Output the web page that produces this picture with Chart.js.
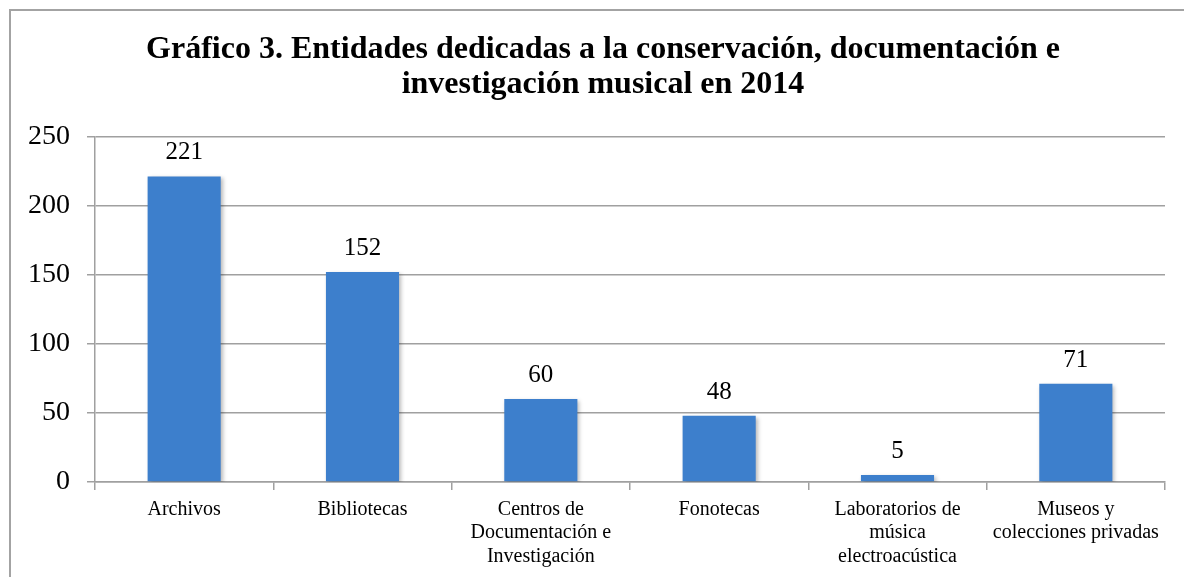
<!DOCTYPE html>
<html>
<head>
<meta charset="utf-8">
<script src="https://cdn.jsdelivr.net/npm/chart.js@4/dist/chart.umd.min.js"></script>
<style>
  html, body { margin: 0; padding: 0; background: #fff; overflow: hidden; }
  #frame {
    position: absolute; left: 9px; top: 9px;
    width: 1220px; height: 620px;
    border: 2px solid #a3a3a3;
  }
  #wrap { position: absolute; left: 0; top: 0; width: 1184px; height: 577px; }
</style>
</head>
<body>
<div id="frame"></div>
<div id="wrap"><canvas id="chart"></canvas></div>
<script>
  // data
  var categories = [
    'Archivos',
    'Bibliotecas',
    ['Centros de', 'Documentación e', 'Investigación'],
    'Fonotecas',
    ['Laboratorios de', 'música', 'electroacústica'],
    ['Museos y', 'colecciones privadas']
  ];
  var entidades = [221, 152, 60, 48, 5, 71];
  var yTicks = [0, 50, 100, 150, 200, 250];

  var serif = "'Liberation Serif', 'Times New Roman', serif";
  var gridGray = '#a0a0a0';

  // values on top of the bars
  var valueLabels = {
    id: 'valueLabels',
    afterDatasetsDraw: function (chart) {
      var ctx = chart.ctx;
      var meta = chart.getDatasetMeta(0);
      ctx.save();
      ctx.font = '25px ' + serif;
      ctx.fillStyle = '#000';
      ctx.textAlign = 'center';
      ctx.textBaseline = 'alphabetic';
      meta.data.forEach(function (bar, i) {
        ctx.fillText(String(entidades[i]), bar.x, bar.y - 17);
      });
      ctx.restore();
    }
  };

  // soft shadow under the bars
  var barShadow = {
    id: 'barShadow',
    beforeDatasetDraw: function (chart) {
      var ctx = chart.ctx;
      ctx.save();
      ctx.shadowColor = 'rgba(0,0,0,0.28)';
      ctx.shadowBlur = 4;
      ctx.shadowOffsetX = 2;
      ctx.shadowOffsetY = 2;
    },
    afterDatasetDraw: function (chart) {
      chart.ctx.restore();
    }
  };

  var ctx = document.getElementById('chart').getContext('2d');
  new Chart(ctx, {
    type: 'bar',
    data: {
      labels: categories,
      datasets: [{
        data: entidades,
        backgroundColor: '#3d7fcc',
        borderWidth: 0,
        categoryPercentage: 1,
        barPercentage: 0.41
      }]
    },
    options: {
      responsive: true,
      maintainAspectRatio: false,
      animation: false,
      layout: { padding: { left: 22, right: 0, top: 0, bottom: 0 } },
      plugins: {
        legend: { display: false },
        tooltip: { enabled: false },
        title: {
          display: true,
          text: ['Gráfico 3. Entidades dedicadas a la conservación, documentación e',
                 'investigación musical en 2014'],
          color: '#000',
          font: { family: serif, size: 32, weight: 'bold', lineHeight: 1.1 },
          padding: { top: 32, bottom: 34 }
        }
      },
      scales: {
        x: {
          grid: {
            display: true,
            drawOnChartArea: false,
            drawTicks: true,
            tickLength: 8,
            color: gridGray,
            lineWidth: 1.5
          },
          border: { display: true, color: gridGray, width: 1.5 },
          ticks: {
            color: '#000',
            font: { family: serif, size: 20, lineHeight: 1.17 },
            padding: 8,
            maxRotation: 0,
            autoSkip: false
          },
          afterFit: function (scale) { scale.height = 95; }
        },
        y: {
          min: 0,
          max: 250,
          afterBuildTicks: function (scale) {
            scale.ticks = yTicks.map(function (v) { return { value: v }; });
          },
          grid: {
            color: gridGray,
            lineWidth: 1.5,
            drawTicks: true,
            tickLength: 8
          },
          border: { display: true, color: gridGray, width: 1.5 },
          ticks: {
            color: '#000',
            font: { family: serif, size: 28 },
            padding: 17
          },
          afterFit: function (scale) { scale.width = 73; }
        },
        // empty right-hand spacer so the plot ends where the reference does
        spacer: {
          type: 'linear',
          position: 'right',
          display: true,
          grid: { display: false },
          border: { display: false },
          ticks: { display: false },
          afterFit: function (scale) { scale.width = 19; }
        }
      }
    },
    plugins: [barShadow, valueLabels]
  });
</script>
</body>
</html>
